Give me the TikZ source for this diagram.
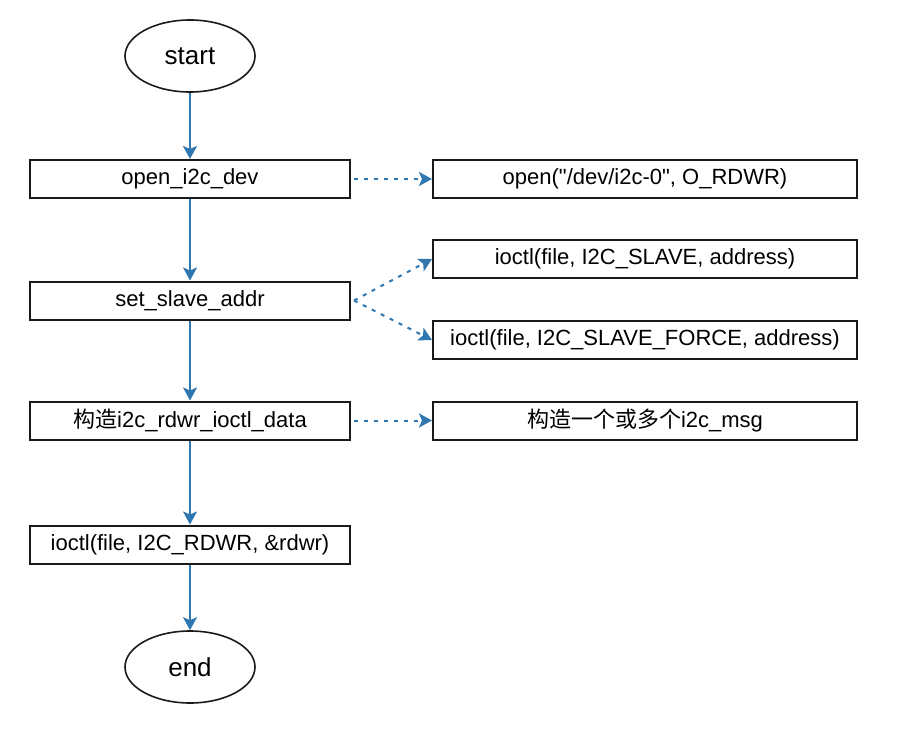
\documentclass[tikz,border=0pt]{standalone}
\usepackage{fontspec}
\setmainfont{Liberation Sans}
\newfontfamily\cjk{Noto Sans CJK SC}
\usetikzlibrary{arrows.meta, shapes.geometric}
\definecolor{flowblue}{HTML}{2F77AE}
\definecolor{boxline}{HTML}{1A1A1A}

\begin{document}
\begin{tikzpicture}[x=1pt, y=-1pt,
  stepbox/.style={draw=boxline, line width=2pt, minimum height=38pt, inner sep=0pt, font=\fontsize{22}{22}\selectfont},
  leftbox/.style={stepbox, minimum width=320pt},
  rightbox/.style={stepbox, minimum width=424pt},
  terminal/.style={ellipse, draw=boxline, line width=1.6pt, minimum width=130pt, minimum height=72pt, inner sep=0pt, font=\fontsize{26}{26}\selectfont},
  flow/.style={flowblue, line width=1.8pt, -{Stealth[length=13pt, width=14pt, inset=3pt]}},
  hint/.style={flowblue, line width=2pt, dash pattern=on 4pt off 6pt, -{Stealth[length=13pt, width=14pt, inset=3pt]}}]

  % Canvas
  \useasboundingbox (0,0) rectangle (907,738);

  % Main flow
  \node[terminal] (start) at (190,56) {start};
  \node[leftbox] (opendev) at (190,179) {open\_i2c\_dev};
  \node[leftbox] (setaddr) at (190,300.5) {set\_slave\_addr};
  \node[leftbox] (builddata) at (190,420.5) {{\cjk 构造}i2c\_rdwr\_ioctl\_data};
  \node[leftbox] (rdwrcall) at (190,544.5) {ioctl(file, I2C\_RDWR, \&rdwr)};
  \node[terminal] (end) at (190,667) {end};

  % Details
  \node[rightbox] (openfile) at (645,179) {open(\textquotedbl/dev/i2c-0\textquotedbl, O\_RDWR)};
  \node[rightbox] (slave) at (645,259) {ioctl(file, I2C\_SLAVE, address)};
  \node[rightbox] (slaveforce) at (645,340) {ioctl(file, I2C\_SLAVE\_FORCE, address)};
  \node[rightbox] (buildmsg) at (645,420.5) {{\cjk 构造一个或多个}i2c\_msg};

  % Arrows
  \draw[flow] (start) -- (opendev);
  \draw[flow] (opendev) -- (setaddr);
  \draw[flow] (setaddr) -- (builddata);
  \draw[flow] (builddata) -- (rdwrcall);
  \draw[flow] (rdwrcall) -- (end);

  \draw[hint] ([xshift=3pt]opendev.east) -- (openfile.west);
  \draw[hint] ([xshift=3pt]setaddr.east) -- (slave.west);
  \draw[hint] ([xshift=3pt]setaddr.east) -- (slaveforce.west);
  \draw[hint] ([xshift=3pt]builddata.east) -- (buildmsg.west);
\end{tikzpicture}
\end{document}
